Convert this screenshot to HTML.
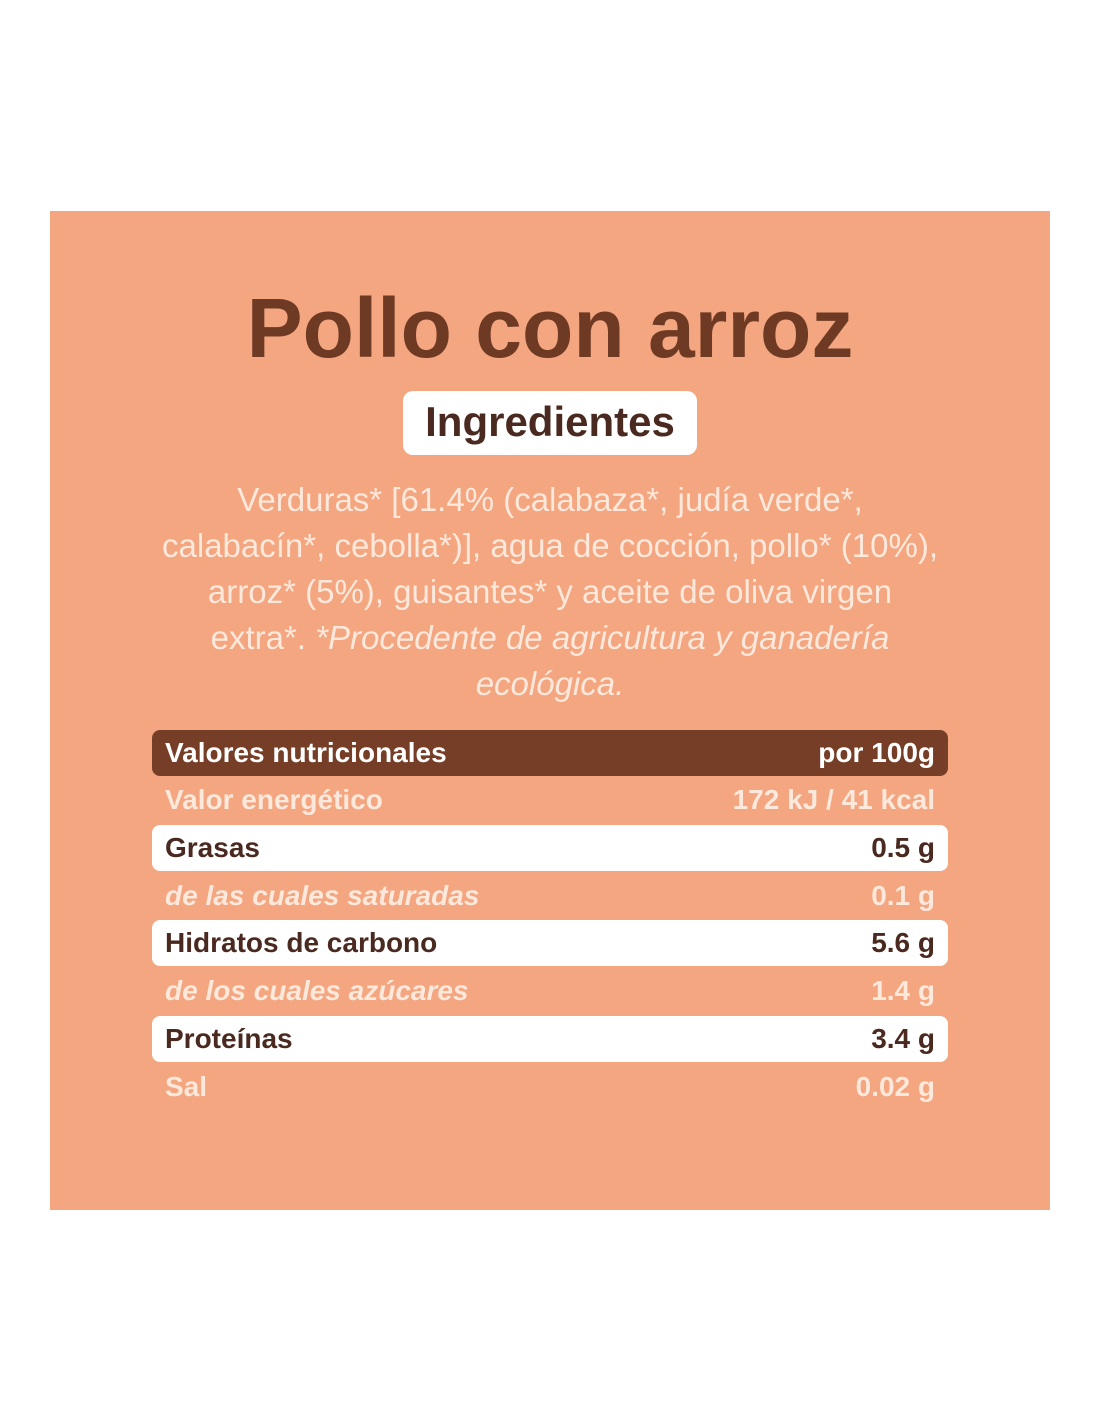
<!DOCTYPE html>
<html><head><meta charset="utf-8"><style>
body{margin:0;width:1100px;height:1422px;background:#fff;position:relative;font-family:"Liberation Sans","DejaVu Sans",sans-serif;}
.panel{position:absolute;left:50px;top:211px;width:1000px;height:999px;background:#f3a680;}
.title{position:absolute;left:0;width:1100px;top:282px;text-align:center;font-size:84px;font-weight:bold;color:#6e3a24;letter-spacing:0px;line-height:92px;}
.pill{position:absolute;left:403px;top:391px;width:294px;height:64px;background:#fff;border-radius:10px;text-align:center;font-size:42px;font-weight:bold;color:#4a2a20;line-height:62px;}
.ing{position:absolute;left:120px;width:860px;top:477px;text-align:center;font-size:33px;line-height:46px;color:#fde8dc;}
.row{position:absolute;left:152px;width:796px;height:46px;font-size:28px;line-height:46px;box-sizing:border-box;padding:0 13px;border-radius:8px;}
.row span{float:right}
.h{background:#763e27;color:#fff;font-weight:bold}
.s{color:#fde8dc;font-weight:bold}
.w{background:#fff;color:#4a2a20;font-weight:bold}
.i{color:#fde8dc;font-style:italic;font-weight:bold}
</style></head><body>
<div class="panel"></div>
<div class="title">Pollo con arroz</div>
<div class="pill">Ingredientes</div>
<div class="ing">Verduras* [61.4% (calabaza*, judía verde*,<br>calabacín*, cebolla*)], agua de cocción, pollo* (10%),<br>arroz* (5%), guisantes* y aceite de oliva virgen<br>extra*. <i>*Procedente de agricultura y ganadería<br>ecológica.</i></div>
<div class="row h" style="top:730px">Valores nutricionales<span>por 100g</span></div>
<div class="row s" style="top:777px">Valor energético<span>172 kJ / 41 kcal</span></div>
<div class="row w" style="top:825px">Grasas<span>0.5 g</span></div>
<div class="row i" style="top:873px">de las cuales saturadas<span style="font-style:normal">0.1 g</span></div>
<div class="row w" style="top:920px">Hidratos de carbono<span>5.6 g</span></div>
<div class="row i" style="top:968px">de los cuales azúcares<span style="font-style:normal">1.4 g</span></div>
<div class="row w" style="top:1016px">Proteínas<span>3.4 g</span></div>
<div class="row s" style="top:1064px">Sal<span>0.02 g</span></div>
</body></html>
